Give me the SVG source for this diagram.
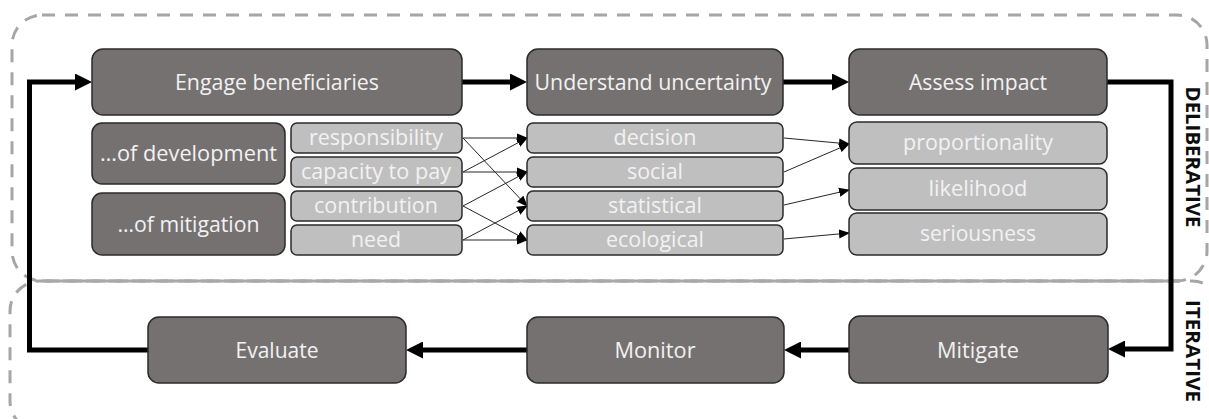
<svg xmlns="http://www.w3.org/2000/svg" width="1209" height="419" viewBox="0 0 1209 419">
  <style>
    .region { fill: none; stroke: #a6a6a6; stroke-width: 3; stroke-dasharray: 13 10; }
    .divider { fill: none; stroke: #a9a9a9; stroke-width: 3; }
    .dark { fill: #757171; stroke: #2b2b2b; stroke-width: 1.5; }
    .light { fill: #bfbfbf; stroke: #2b2b2b; stroke-width: 1.5; }
    .lbl { font-family: "Open Sans", "Noto Sans", sans-serif; font-size: 22px; fill: #f2f2f2; text-anchor: middle; }
    .side { font-family: "Open Sans", "Noto Sans", sans-serif; font-size: 20px; font-weight: bold; fill: #0d0d0d; text-anchor: middle; }
    .flow { fill: none; stroke: #000; stroke-width: 5; stroke-linejoin: miter; }
    .link { fill: none; stroke: #262626; stroke-width: 1; }
  </style>
  <defs>
    <marker id="bigArrow" markerUnits="userSpaceOnUse" markerWidth="17" markerHeight="17" refX="7" refY="8.5" orient="auto">
      <path d="M0,0 L17,8.5 L0,17 z" fill="#000"/>
    </marker>
    <marker id="smallArrow" markerUnits="userSpaceOnUse" markerWidth="11" markerHeight="10" refX="10" refY="5" orient="auto">
      <path d="M0,0.5 L11,5 L0,9.5 z" fill="#000"/>
    </marker>
  </defs>

  <!-- phase regions -->
  <g id="regions">
    <rect class="region" x="12" y="15" width="1195" height="266" rx="30"/>
    <rect class="region" x="10" y="281" width="1212" height="150" rx="30"/>
    <line class="divider" x1="42" y1="281" x2="1180" y2="281"/>
    <text class="side" transform="translate(1193,157) rotate(90)" x="0" y="7" textLength="141" lengthAdjust="spacingAndGlyphs">DELIBERATIVE</text>
    <text class="side" transform="translate(1193,351) rotate(90)" x="0" y="7" textLength="102" lengthAdjust="spacingAndGlyphs">ITERATIVE</text>
  </g>

  <!-- connectors -->
  <g id="connectors">
    <path class="flow" d="M462,82 H517" marker-end="url(#bigArrow)"/>
    <path class="flow" d="M783,82 H839" marker-end="url(#bigArrow)"/>
    <path class="flow" d="M1107,82 H1171 V349 H1118" marker-end="url(#bigArrow)"/>
    <path class="flow" d="M849,350 H794" marker-end="url(#bigArrow)"/>
    <path class="flow" d="M527,350 H416" marker-end="url(#bigArrow)"/>
    <path class="flow" d="M148,350 H29.5 V82 H82" marker-end="url(#bigArrow)"/>

    <line class="link" x1="463" y1="138" x2="527" y2="138" marker-end="url(#smallArrow)"/>
    <line class="link" x1="463" y1="138" x2="527" y2="206" marker-end="url(#smallArrow)"/>
    <line class="link" x1="463" y1="172" x2="527" y2="138" marker-end="url(#smallArrow)"/>
    <line class="link" x1="463" y1="172" x2="527" y2="172" marker-end="url(#smallArrow)"/>
    <line class="link" x1="463" y1="206" x2="527" y2="172" marker-end="url(#smallArrow)"/>
    <line class="link" x1="463" y1="206" x2="527" y2="240" marker-end="url(#smallArrow)"/>
    <line class="link" x1="463" y1="240" x2="527" y2="206" marker-end="url(#smallArrow)"/>
    <line class="link" x1="463" y1="240" x2="527" y2="240" marker-end="url(#smallArrow)"/>

    <line class="link" x1="784" y1="138" x2="849" y2="144" marker-end="url(#smallArrow)"/>
    <line class="link" x1="784" y1="172" x2="849" y2="144" marker-end="url(#smallArrow)"/>
    <line class="link" x1="784" y1="205" x2="849" y2="190" marker-end="url(#smallArrow)"/>
    <line class="link" x1="784" y1="239" x2="849" y2="233" marker-end="url(#smallArrow)"/>
  </g>

  <!-- main stages -->
  <g id="engage">
    <rect class="dark" x="92" y="49" width="370" height="66" rx="11"/>
    <text class="lbl" x="277" y="90" textLength="204" lengthAdjust="spacingAndGlyphs">Engage beneficiaries</text>
  </g>
  <g id="understand">
    <rect class="dark" x="527" y="49" width="256" height="66" rx="11"/>
    <text class="lbl" x="653" y="90" textLength="237" lengthAdjust="spacingAndGlyphs">Understand uncertainty</text>
  </g>
  <g id="assess">
    <rect class="dark" x="849" y="49" width="258" height="66" rx="11"/>
    <text class="lbl" x="978" y="90" textLength="138" lengthAdjust="spacingAndGlyphs">Assess impact</text>
  </g>

  <!-- beneficiary groups -->
  <g id="of-development">
    <rect class="dark" x="92" y="123" width="193" height="61" rx="10"/>
    <text class="lbl" x="188.5" y="161" textLength="177" lengthAdjust="spacingAndGlyphs">…of development</text>
  </g>
  <g id="of-mitigation">
    <rect class="dark" x="92" y="193" width="193" height="62" rx="10"/>
    <text class="lbl" x="188.5" y="232" textLength="142" lengthAdjust="spacingAndGlyphs">…of mitigation</text>
  </g>

  <!-- principles -->
  <g id="responsibility">
    <rect class="light" x="291" y="123" width="171" height="30" rx="6"/>
    <text class="lbl" x="376" y="145" textLength="134" lengthAdjust="spacingAndGlyphs">responsibility</text>
  </g>
  <g id="capacity">
    <rect class="light" x="291" y="157" width="171" height="30" rx="6"/>
    <text class="lbl" x="376" y="179" textLength="150" lengthAdjust="spacingAndGlyphs">capacity to pay</text>
  </g>
  <g id="contribution">
    <rect class="light" x="291" y="191" width="171" height="30" rx="6"/>
    <text class="lbl" x="376" y="213" textLength="124" lengthAdjust="spacingAndGlyphs">contribution</text>
  </g>
  <g id="need">
    <rect class="light" x="291" y="225" width="171" height="30" rx="6"/>
    <text class="lbl" x="376" y="247" textLength="50" lengthAdjust="spacingAndGlyphs">need</text>
  </g>

  <!-- uncertainty types -->
  <g id="decision">
    <rect class="light" x="527" y="123" width="256" height="30" rx="6"/>
    <text class="lbl" x="655" y="145" textLength="83" lengthAdjust="spacingAndGlyphs">decision</text>
  </g>
  <g id="social">
    <rect class="light" x="527" y="157" width="256" height="30" rx="6"/>
    <text class="lbl" x="655" y="179" textLength="56" lengthAdjust="spacingAndGlyphs">social</text>
  </g>
  <g id="statistical">
    <rect class="light" x="527" y="191" width="256" height="30" rx="6"/>
    <text class="lbl" x="655" y="213" textLength="94" lengthAdjust="spacingAndGlyphs">statistical</text>
  </g>
  <g id="ecological">
    <rect class="light" x="527" y="225" width="256" height="30" rx="6"/>
    <text class="lbl" x="655" y="247" textLength="98" lengthAdjust="spacingAndGlyphs">ecological</text>
  </g>

  <!-- impact criteria -->
  <g id="proportionality">
    <rect class="light" x="849" y="122" width="258" height="42" rx="8"/>
    <text class="lbl" x="978" y="150" textLength="150" lengthAdjust="spacingAndGlyphs">proportionality</text>
  </g>
  <g id="likelihood">
    <rect class="light" x="849" y="168" width="258" height="42" rx="8"/>
    <text class="lbl" x="978" y="196" textLength="99" lengthAdjust="spacingAndGlyphs">likelihood</text>
  </g>
  <g id="seriousness">
    <rect class="light" x="849" y="213" width="258" height="42" rx="8"/>
    <text class="lbl" x="978" y="241" textLength="116" lengthAdjust="spacingAndGlyphs">seriousness</text>
  </g>

  <!-- iterative stages -->
  <g id="evaluate">
    <rect class="dark" x="148" y="317" width="258" height="66" rx="11"/>
    <text class="lbl" x="277" y="358" textLength="83" lengthAdjust="spacingAndGlyphs">Evaluate</text>
  </g>
  <g id="monitor">
    <rect class="dark" x="527" y="317" width="257" height="66" rx="11"/>
    <text class="lbl" x="655" y="358" textLength="81" lengthAdjust="spacingAndGlyphs">Monitor</text>
  </g>
  <g id="mitigate">
    <rect class="dark" x="849" y="316" width="259" height="67" rx="11"/>
    <text class="lbl" x="978" y="358" textLength="82" lengthAdjust="spacingAndGlyphs">Mitigate</text>
  </g>
</svg>
